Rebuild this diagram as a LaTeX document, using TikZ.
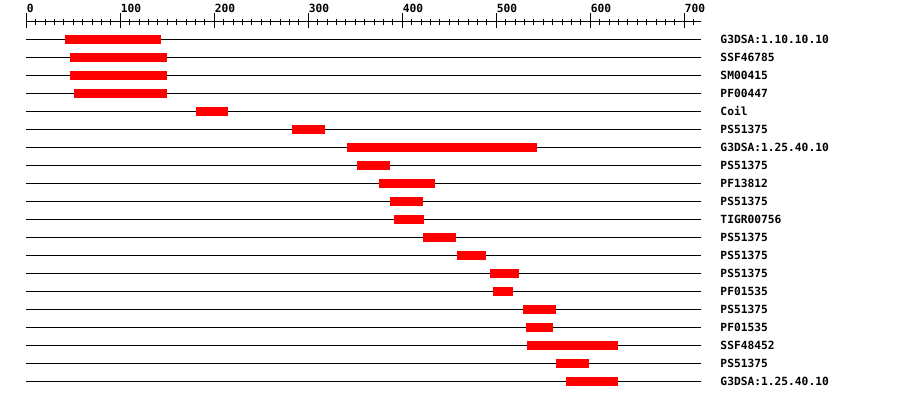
\documentclass[tikz,border=0pt]{standalone}
\usepackage{fontspec}
\setmonofont{DejaVu Sans Mono}
\usepackage{tikz}

\begin{document}
\begin{tikzpicture}[x=0.0235cm, y=-0.025cm, line width=0.7pt,
	every node/.style={font=\ttfamily\bfseries\fontsize{8}{9}\selectfont, inner sep=0pt},
	track/.style={black, line width=0.7pt},
	hit/.style={fill=red, draw=none}]
	\useasboundingbox (-28,0) rectangle (929.5,400);
	\draw (0,22) -- (718,22);
	\foreach \x in {0,10,...,710} {
		\draw (\x,18.7) -- (\x,25.3);
	}
	\foreach \x in {0,100,...,700} {
		\draw (\x,13.3) -- (\x,28.3);
		\node[anchor=base west] (tick\x) at (\x,12.3) {\x};
	}
	\foreach \s/\e/\name [count=\r] in {41/143/G3DSA:1.10.10.10, 47/150/SSF46785, 47/150/SM00415,
		51/150/PF00447, 180/215/Coil, 283/318/PS51375, 341/543/G3DSA:1.25.40.10, 352/387/PS51375,
		375/435/PF13812, 387/422/PS51375, 391/423/TIGR00756, 422/457/PS51375, 458/489/PS51375,
		493/524/PS51375, 496/518/PF01535, 528/563/PS51375, 532/560/PF01535, 533/629/SSF48452,
		563/599/PS51375, 574/629/G3DSA:1.25.40.10} {
		\pgfmathsetmacro{\yy}{21.3+18*\r}
		\draw[track] (0,\yy) -- (718,\yy);
		\fill[hit] (\s,\yy-4.5) rectangle (\e,\yy+4.5);
		\node[anchor=west] (lbl\r) at (738,\yy) {\name};
	}
\end{tikzpicture}
\end{document}
